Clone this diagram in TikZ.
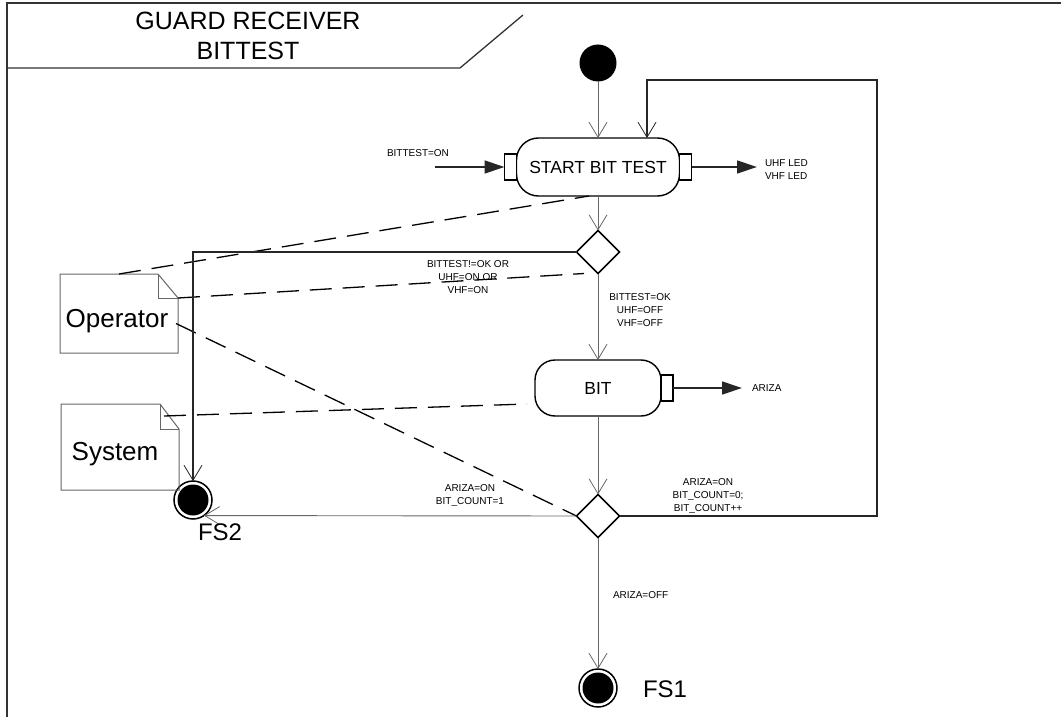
\documentclass[tikz,border=0pt]{standalone}
\usepackage{fontspec}
\setmainfont{Liberation Sans}
\usetikzlibrary{arrows.meta,shapes.geometric,calc}
\begin{document}
\begin{tikzpicture}[x=1pt,y=-1pt,
  every node/.style={inner sep=0pt, outer sep=0pt},
  flow/.style={draw=black!60, line width=0.9pt},
  heavy/.style={draw=black!85, line width=1.3pt},
  barb/.style={-{Straight Barb[length=15pt,width=18pt,line width=0.8pt]}},
  tri/.style={-{Triangle[length=20pt,width=13pt]}},
  assoc/.style={draw=black, line width=1.3pt, dash pattern=on 22pt off 11pt},
  actbox/.style={draw=black, line width=1.4pt, rounded corners=22pt, minimum height=58pt},
  pinbox/.style={draw=black, line width=1.1pt, fill=white, minimum width=12pt, minimum height=26pt},
  decision/.style={diamond, draw=black, line width=1.5pt, minimum width=43pt, minimum height=43pt},
  small/.style={font=\fontsize{10}{13}\selectfont, align=center},
  final/.style={circle, draw=black, line width=1.5pt, minimum size=38pt,
    path picture={\fill[black] (path picture bounding box.center) circle (15.5pt);}},
  notebox/.style={minimum width=118pt, minimum height=79pt},
  noteline/.style={draw=black!60, line width=1pt},
  notetext/.style={font=\fontsize{26}{30}\selectfont},
  big/.style={font=\fontsize{17.5}{20}\selectfont}
]
\useasboundingbox (0,0) rectangle (1061,717);
% frame and title
\draw[line width=1.5pt, black!80] (7,717) -- (7,3) -- (1061,3);
\draw[line width=1.3pt, black!80] (7,68) -- (460,68) -- (523,15);
\node[font=\fontsize{25}{30}\selectfont, align=center] (title) at (248,36) {GUARD RECEIVER\\BITTEST};

% nodes
\node[circle, fill=black, minimum size=37pt] (init) at (598,63) {};
\node[actbox, minimum width=163pt, big] (sbt) at (598,167) {START BIT TEST};
\node[pinbox, anchor=east] (sbtl) at (sbt.west) {};
\node[pinbox, anchor=west] (sbtr) at (sbt.east) {};
\node[decision] (d1) at (598,252) {};
\node[actbox, minimum width=126pt, minimum height=56pt, rounded corners=20pt, big] (bit) at (598,388) {BIT};
\node[pinbox, anchor=west] (bitr) at (bit.east) {};
\node[decision] (d2) at (598,516) {};
\node[final] (fs2) at (193,500) {};
\node[final] (fs1) at (598,688) {};

% notes
\node[notebox] (op) at (119,313.5) {};
\draw[noteline] (op.north west) -- ($(op.north east)+(-20,0)$) -- ($(op.north east)+(0,24)$) -- (op.south east) -- (op.south west) -- cycle;
\draw[noteline] ($(op.north east)+(-20,0)$) |- ($(op.north east)+(0,24)$);
\node[notetext, anchor=base] (optext) at (117,327) {Operator};

\node[notebox, minimum height=86pt] (sys) at (120,447) {};
\draw[noteline] (sys.north west) -- ($(sys.north east)+(-19,0)$) -- ($(sys.north east)+(0,25)$) -- (sys.south east) -- (sys.south west) -- cycle;
\draw[noteline] ($(sys.north east)+(-19,0)$) |- ($(sys.north east)+(0,25)$);
\node[notetext, anchor=base] (systext) at (115,460) {System};

% associations
\draw[assoc] (op.north) -- ($(sbt.south)+(-9,0)$);
\draw[assoc] ($(op.north east)+(0,24)$) -- ($(d1.south)+(-14,0)$);
\draw[assoc] ($(op.east)+(-2,10)$) -- (d2.west);
\draw[assoc] ($(sys.north east)+(-15,12)$) -- ($(bit.south west)+(-8,-12)$);

% flows
\coordinate (loopc) at (877,80);
\coordinate (bton) at (435,167);
\coordinate (uhfend) at (757,167);
\coordinate (arizaend) at (742,388);
\draw[flow, barb] (init) -- (sbt.north);
\draw[heavy, barb] (d2.east) -| (loopc) -| ($(sbt.north)+(49,0)$);
\draw[flow, barb] (sbt.south) -- (d1.north);
\draw[heavy, barb] (d1.west) -| (fs2.north);
\draw[flow, barb] (d1.south) -- (bit.north);
\draw[flow, barb] (bit.south) -- (d2.north);
\draw[flow, barb] (d2.west) -- (fs2.-55);
\draw[flow, barb] (d2.south) -- (fs1.north);
\draw[heavy, tri] (bton) -- (sbtl.west);
\draw[heavy, tri] (sbtr.east) -- (uhfend);
\draw[heavy, tri] (bitr.east) -- (arizaend);

% labels
\node[small, anchor=base west] (lbon) at (387,157) {BITTEST=ON};
\node[small, anchor=west, align=left] (luhf) at (765,170) {UHF LED\\VHF LED};
\node[small] (lnok) at (468,277) {BITTEST!=OK OR\\UHF=ON OR\\VHF=ON};
\node[small] (lok) at (640,310) {BITTEST=OK\\UHF=OFF\\VHF=OFF};
\node[small, anchor=west] (lariza) at (752,388) {ARIZA};
\node[small] (lon1) at (470,495) {ARIZA=ON\\BIT\_COUNT=1};
\node[small] (lon0) at (708,496) {ARIZA=ON\\BIT\_COUNT=0;\\BIT\_COUNT++};
\node[small, anchor=west] (loff) at (613,595) {ARIZA=OFF};
\node[font=\fontsize{24}{28}\selectfont, anchor=west] (lfs1) at (643,689) {FS1};
\node[font=\fontsize{24}{28}\selectfont, anchor=base west] (lfs2) at (198,540) {FS2};
\end{tikzpicture}
\end{document}
